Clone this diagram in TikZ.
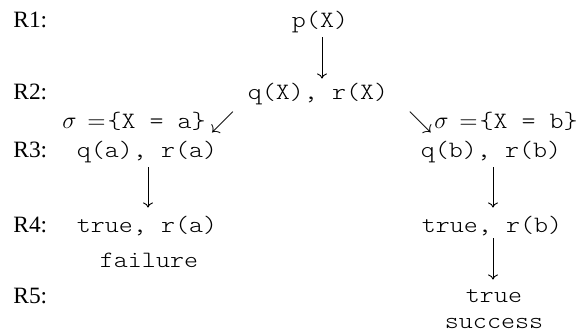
\documentclass[tikz,border=0pt]{standalone}
\usepackage{fontspec}
\setmainfont{Liberation Serif}
\setmonofont[FakeStretch=1.14]{Latin Modern Mono Light}
\usetikzlibrary{arrows.meta}
\tikzset{
  lbl/.style={inner sep=0pt, anchor=base west, font=\fontsize{11.7}{14}\selectfont},
  term/.style={inner sep=0pt, anchor=base, text height=9pt, text depth=3pt, font=\fontsize{11.7}{14}\selectfont\ttfamily},
  sub/.style={inner sep=0pt, font=\fontsize{11.7}{14}\selectfont},
  arr/.style={line width=0.45pt, -{To[length=2.6pt,width=5pt]}}
}
\begin{document}
\begin{tikzpicture}[x=0.5pt,y=-0.5pt]
\useasboundingbox (0,0) rectangle (579,334);
% row labels
\node[lbl] (R1) at (13,27) {R1:};
\node[lbl] (R2) at (13,99) {R2:};
\node[lbl] (R3) at (13,157) {R3:};
\node[lbl] (R4) at (13,232) {R4:};
\node[lbl] (R5) at (13,303) {R5:};
% terms
\node[term] (p) at (320,27) {p(X)};
\node[term] (qX) at (318,99) {q(X), r(X)};
\node[sub, anchor=base west] (siga) at (62,128) {$\sigma\,=$\kern1pt\texttt{\{X = a\}}\kern2.5pt$\swarrow$};
\node[sub, anchor=base west] (sigb) at (408,128) {$\searrow$\kern1pt$\sigma\,=$\kern1pt\texttt{\{X = b\}}};
\node[term] (qa) at (147,157) {q(a), r(a)};
\node[term] (qb) at (491,157) {q(b), r(b)};
\node[term] (ta) at (147,232) {true, r(a)};
\node[term] (fail) at (149,267) {failure};
\node[term] (tb) at (492,232) {true, r(b)};
\node[term] (tru) at (494,302) {true};
\node[term] (succ) at (494,328) {success};
% arrows
\draw[arr, shorten <=2pt, shorten >=1pt] ([xshift=1pt]p.south) -- ([xshift=1pt]p.south |- qX.north);
\draw[arr, shorten <=2pt, shorten >=3pt] ([xshift=0.5pt]qa.south) -- ([xshift=0.5pt]qa.south |- ta.north);
\draw[arr, shorten <=2pt, shorten >=3pt] ([xshift=1pt]qb.south) -- ([xshift=1pt]qb.south |- tb.north);
\draw[arr, shorten <=0pt, shorten >=2pt] ([xshift=0.5pt]tb.south) -- ([xshift=0.5pt]tb.south |- tru.north);
\end{tikzpicture}
\end{document}
